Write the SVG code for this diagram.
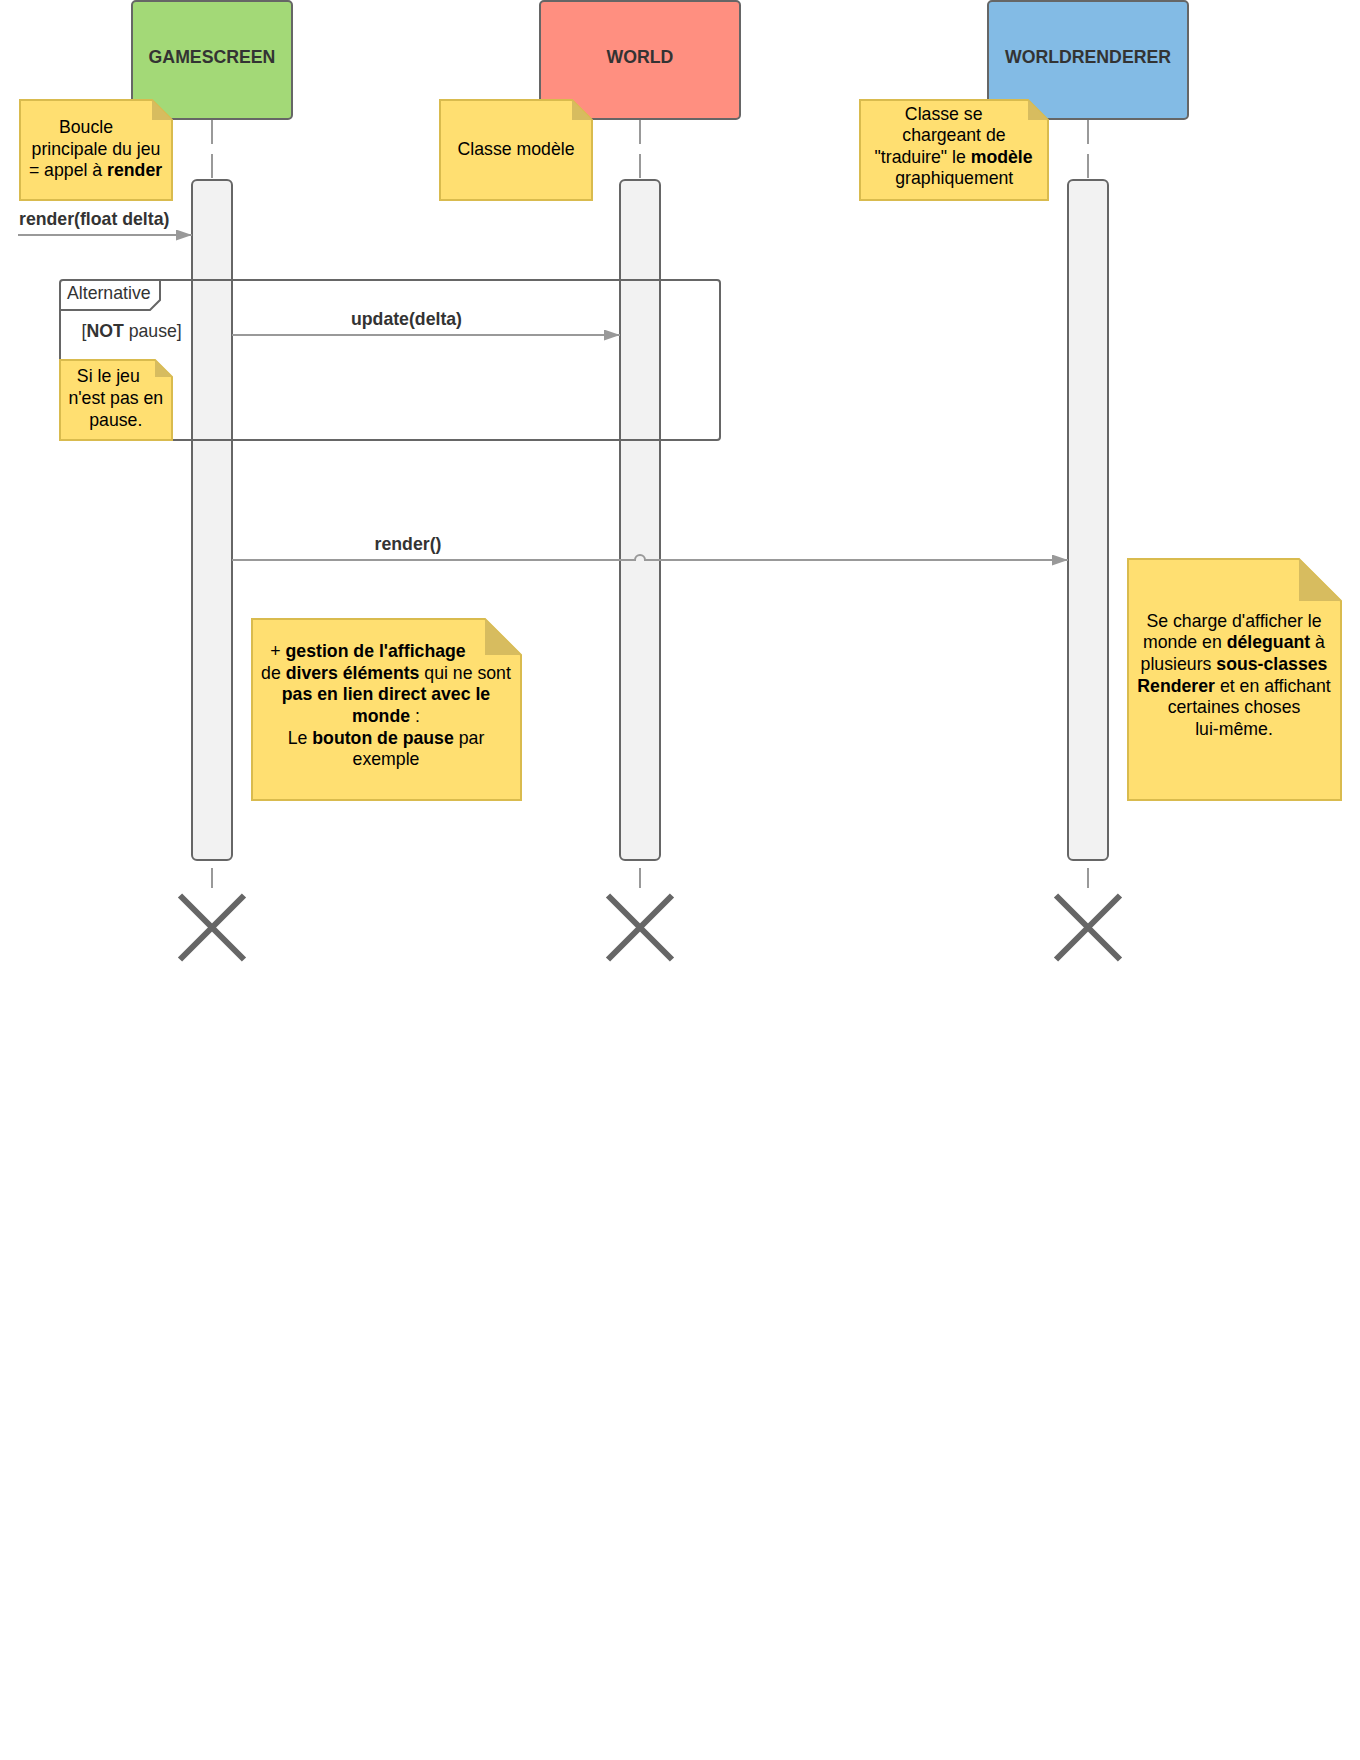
<svg xmlns="http://www.w3.org/2000/svg" width="1360" height="1760" viewBox="0 0 1360 1760">
<style>
text{font-family:"Liberation Sans",Arial,sans-serif;font-size:17.7px}
.title{font-weight:bold;fill:#333;text-anchor:middle}
.box{stroke:#666;stroke-width:2}
.life{stroke:#999;stroke-width:2;stroke-dasharray:24 10;fill:none}
.bar{fill:#f2f2f2;stroke:#666;stroke-width:2}
.note{fill:#ffdf71;stroke:#d9bb4e;stroke-width:2}
.fold{fill:#d7bc5f}
.nt{fill:#000;text-anchor:middle}
.msg{stroke:#999;stroke-width:2;fill:none}
.lbl{font-weight:bold;fill:#333}
.b{font-weight:bold}
.frame{fill:none;stroke:#666;stroke-width:2}
.x{stroke:#666;stroke-width:6}
</style>
<defs>
<marker id="arr" markerUnits="userSpaceOnUse" markerWidth="17" markerHeight="12" refX="16" refY="5.5" orient="auto">
<path d="M0,0 L16,5.5 L0,11 Z" fill="#999"/>
</marker>
</defs>
<rect width="1360" height="1760" fill="#fff"/>

<g id="lifelines">
<line class="life" x1="212" y1="120" x2="212" y2="888"/>
<line class="life" x1="640" y1="120" x2="640" y2="888"/>
<line class="life" x1="1088" y1="120" x2="1088" y2="888"/>
</g>

<g id="gamescreen">
<rect class="box" x="132" y="1" width="160" height="118" rx="4" fill="#a3d977"/>
<text class="title" x="212" y="63">GAMESCREEN</text>
</g>
<g id="world">
<rect class="box" x="540" y="1" width="200" height="118" rx="4" fill="#ff8f80"/>
<text class="title" x="640" y="63">WORLD</text>
</g>
<g id="worldrenderer">
<rect class="box" x="988" y="1" width="200" height="118" rx="4" fill="#83bbe5"/>
<text class="title" x="1088" y="63">WORLDRENDERER</text>
</g>

<g id="activation-gamescreen"><rect class="bar" x="192" y="180" width="40" height="680" rx="5"/></g>
<g id="activation-world"><rect class="bar" x="620" y="180" width="40" height="680" rx="5"/></g>
<g id="activation-worldrenderer"><rect class="bar" x="1068" y="180" width="40" height="680" rx="5"/></g>

<g id="connectors">
<line class="msg" x1="18" y1="235" x2="192" y2="235" marker-end="url(#arr)"/>
<text class="lbl" x="19" y="224.5">render(float delta)</text>
<line class="msg" x1="232" y1="335" x2="620" y2="335" marker-end="url(#arr)"/>
<text class="lbl" x="406.5" y="325" text-anchor="middle">update(delta)</text>
<path class="msg" d="M232 560 H635 A5 5 0 0 1 645 560 H1068" marker-end="url(#arr)"/>
<text class="lbl" x="408" y="549.5" text-anchor="middle">render()</text>
</g>

<g id="alt-frame">
<rect class="frame" x="60" y="280" width="660" height="160" rx="3"/>
<path class="frame" d="M60 310 H150 L160 300 V280"/>
<text x="67" y="299" fill="#333">Alternative</text>
<text x="81.5" y="337" fill="#333">[<tspan class="b">NOT</tspan> pause]</text>
</g>

<g id="note-boucle">
<path class="note" d="M20 100 H152 L172 120 V200 H20 Z"/>
<path class="fold" d="M152 100 L172 120 H152 Z"/>
<text class="nt" x="86" y="133">Boucle</text>
<text class="nt" x="96" y="154.7">principale du jeu</text>
<text class="nt" x="95.5" y="176.4">= appel à <tspan class="b">render</tspan></text>
</g>

<g id="note-modele">
<path class="note" d="M440 100 H572 L592 120 V200 H440 Z"/>
<path class="fold" d="M572 100 L592 120 H572 Z"/>
<text class="nt" x="516" y="155">Classe modèle</text>
</g>

<g id="note-traduire">
<path class="note" d="M860 100 H1028 L1048 120 V200 H860 Z"/>
<path class="fold" d="M1028 100 L1048 120 H1028 Z"/>
<text class="nt" x="943.7" y="119.5">Classe se</text>
<text class="nt" x="954" y="141">chargeant de</text>
<text class="nt" x="953.6" y="162.7">"traduire" le <tspan class="b">modèle</tspan></text>
<text class="nt" x="954.3" y="184.3">graphiquement</text>
</g>

<g id="note-pause">
<path class="note" d="M60 360 H155 L172 377 V440 H60 Z"/>
<path class="fold" d="M155 360 L172 377 H155 Z"/>
<text class="nt" x="108.3" y="382">Si le jeu</text>
<text class="nt" x="115.8" y="404">n'est pas en</text>
<text class="nt" x="115.8" y="426">pause.</text>
</g>

<g id="note-affichage">
<path class="note" d="M252 619 H485 L521 655 V800 H252 Z"/>
<path class="fold" d="M485 619 L521 655 H485 Z"/>
<text class="nt" x="368" y="657">+ <tspan class="b">gestion de l'affichage</tspan></text>
<text class="nt" x="386" y="678.7">de <tspan class="b">divers éléments</tspan> qui ne sont</text>
<text class="nt" x="386" y="700.3"><tspan class="b">pas en lien direct avec le</tspan></text>
<text class="nt" x="386" y="722"><tspan class="b">monde</tspan> :</text>
<text class="nt" x="386" y="743.7">Le <tspan class="b">bouton de pause</tspan> par</text>
<text class="nt" x="386" y="765.3">exemple</text>
</g>

<g id="note-renderer">
<path class="note" d="M1128 559 H1299 L1341 601 V800 H1128 Z"/>
<path class="fold" d="M1299 559 L1341 601 H1299 Z"/>
<text class="nt" x="1234" y="626.7">Se charge d'afficher le</text>
<text class="nt" x="1234" y="648.3">monde en <tspan class="b">déleguant</tspan> à</text>
<text class="nt" x="1234" y="670">plusieurs <tspan class="b">sous-classes</tspan></text>
<text class="nt" x="1234" y="691.7"><tspan class="b">Renderer</tspan> et en affichant</text>
<text class="nt" x="1234" y="713.3">certaines choses</text>
<text class="nt" x="1234" y="735">lui-même.</text>
</g>

<g id="destroy-gamescreen"><path class="x" d="M180 895.5 L244 959.5 M244 895.5 L180 959.5"/></g>
<g id="destroy-world"><path class="x" d="M608 895.5 L672 959.5 M672 895.5 L608 959.5"/></g>
<g id="destroy-worldrenderer"><path class="x" d="M1056 895.5 L1120 959.5 M1120 895.5 L1056 959.5"/></g>
</svg>
